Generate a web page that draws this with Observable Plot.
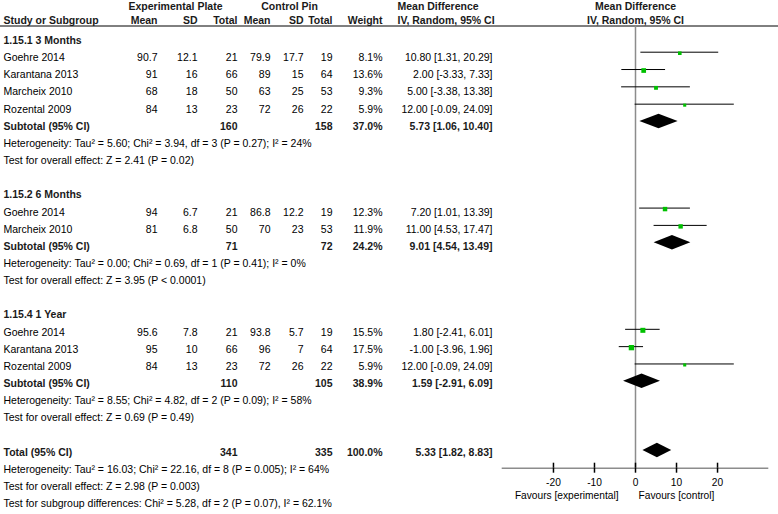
<!DOCTYPE html>
<html>
<head>
<meta charset="utf-8">
<script src="https://cdn.jsdelivr.net/npm/d3@7"></script>
<script src="https://cdn.jsdelivr.net/npm/@observablehq/plot@0.6"></script>
<style>
  html, body { margin: 0; padding: 0; background: #fff; }
  #wrap { position: relative; width: 778px; height: 514px; overflow: hidden; }
  #wrap svg { position: absolute; left: 0; top: 0; }
</style>
</head>
<body>
<div id="wrap"></div>
<script>
// ---------------- DATA ----------------
const subgroupNames = ["1.15.1 3 Months", "1.15.2 6 Months", "1.15.4 1 Year"];
const studyNames = ["Goehre 2014", "Karantana 2013", "Marcheix 2010", "Rozental 2009",
                    "Goehre 2014", "Marcheix 2010",
                    "Goehre 2014", "Karantana 2013", "Rozental 2009"];
const studyGroup = [0, 0, 0, 0, 1, 1, 2, 2, 2];
const expMean  = [90.7, 91, 68, 84, 94, 81, 95.6, 95, 84];
const expSD    = [12.1, 16, 18, 13, 6.7, 6.8, 7.8, 10, 13];
const expTotal = [21, 66, 50, 23, 21, 50, 21, 66, 23];
const ctlMean  = [79.9, 89, 63, 72, 86.8, 70, 93.8, 96, 72];
const ctlSD    = [17.7, 15, 25, 26, 12.2, 23, 5.7, 7, 26];
const ctlTotal = [19, 64, 53, 22, 19, 53, 19, 64, 22];
const weight   = [8.1, 13.6, 9.3, 5.9, 12.3, 11.9, 15.5, 17.5, 5.9];
const md       = [10.80, 2.00, 5.00, 12.00, 7.20, 11.00, 1.80, -1.00, 12.00];
const ciLow    = [1.31, -3.33, -3.38, -0.09, 1.01, 4.53, -2.41, -3.96, -0.09];
const ciHigh   = [20.29, 7.33, 13.38, 24.09, 13.39, 17.47, 6.01, 1.96, 24.09];

const subExpTotal = [160, 71, 110];
const subCtlTotal = [158, 72, 105];
const subWeight   = [37.0, 24.2, 38.9];
const subMD       = [5.73, 9.01, 1.59];
const subLow      = [1.06, 4.54, -2.91];
const subHigh     = [10.40, 13.49, 6.09];
const subHet = [
  "Heterogeneity: Tau² = 5.60; Chi² = 3.94, df = 3 (P = 0.27); I² = 24%",
  "Heterogeneity: Tau² = 0.00; Chi² = 0.69, df = 1 (P = 0.41); I² = 0%",
  "Heterogeneity: Tau² = 8.55; Chi² = 4.82, df = 2 (P = 0.09); I² = 58%"
];
const subTest = [
  "Test for overall effect: Z = 2.41 (P = 0.02)",
  "Test for overall effect: Z = 3.95 (P < 0.0001)",
  "Test for overall effect: Z = 0.69 (P = 0.49)"
];
const totalExp = 341, totalCtl = 335, totalWeight = 100.0;
const totalMD = 5.33, totalLow = 1.82, totalHigh = 8.83;
const totalHet = "Heterogeneity: Tau² = 16.03; Chi² = 22.16, df = 8 (P = 0.005); I² = 64%";
const totalTest = "Test for overall effect: Z = 2.98 (P = 0.003)";
const subgroupDiff = "Test for subgroup differences: Chi² = 5.28, df = 2 (P = 0.07), I² = 62.1%";
const axisTicks = [-20, -10, 0, 10, 20];
const favoursLeft = "Favours [experimental]";
const favoursRight = "Favours [control]";

// ---------------- LAYOUT ----------------
const FONT = "'Liberation Sans', Arial, Helvetica, sans-serif";
const FS = 10.5;
const FS_AXIS = 10.2;
const columns = {
  label:    {x: 3,   anchor: "start"},
  expMean:  {x: 157, anchor: "end"},
  expSD:    {x: 197, anchor: "end"},
  expTotal: {x: 237, anchor: "end"},
  ctlMean:  {x: 270, anchor: "end"},
  ctlSD:    {x: 303, anchor: "end"},
  ctlTotal: {x: 332, anchor: "end"},
  weight:   {x: 382, anchor: "end"},
  ci:       {x: 492, anchor: "end"},
  hExp:     {x: 175, anchor: "middle"},
  hCtl:     {x: 289, anchor: "middle"},
  hMD:      {x: 397, anchor: "start"},
  hMD2:     {x: 635, anchor: "middle"}
};

const fmtCI = (m, l, h) => `${m.toFixed(2)} [${l.toFixed(2)}, ${h.toFixed(2)}]`;
const pct = w => w.toFixed(1) + "%";

// ---------------- BUILD TABLE ----------------
const cells = [];
const push = (row, col, text, bold = false, dy = 0) => cells.push({row, col, text: String(text), bold, dy});
const studyRows = [];
const diamonds = [];

push(0, "hExp", "Experimental Plate", true);
push(0, "hCtl", "Control Pin", true);
push(0, "hMD", "Mean Difference", true);
push(0, "hMD2", "Mean Difference", true);
[["label", "Study or Subgroup"], ["expMean", "Mean"], ["expSD", "SD"], ["expTotal", "Total"],
 ["ctlMean", "Mean"], ["ctlSD", "SD"], ["ctlTotal", "Total"], ["weight", "Weight"],
 ["hMD", "IV, Random, 95% CI"], ["hMD2", "IV, Random, 95% CI"]]
  .forEach(([c, t]) => push(1, c, t, true, -3));

let row = 2;
subgroupNames.forEach((name, g) => {
  push(row, "label", name, true); row++;
  studyNames.forEach((s, i) => {
    if (studyGroup[i] !== g) return;
    push(row, "label", s);
    push(row, "expMean", expMean[i]);
    push(row, "expSD", expSD[i]);
    push(row, "expTotal", expTotal[i]);
    push(row, "ctlMean", ctlMean[i]);
    push(row, "ctlSD", ctlSD[i]);
    push(row, "ctlTotal", ctlTotal[i]);
    push(row, "weight", pct(weight[i]));
    push(row, "ci", fmtCI(md[i], ciLow[i], ciHigh[i]));
    studyRows.push({row, md: md[i], lo: ciLow[i], hi: ciHigh[i], w: weight[i]});
    row++;
  });
  push(row, "label", "Subtotal (95% CI)", true);
  push(row, "expTotal", subExpTotal[g], true);
  push(row, "ctlTotal", subCtlTotal[g], true);
  push(row, "weight", pct(subWeight[g]), true);
  push(row, "ci", fmtCI(subMD[g], subLow[g], subHigh[g]), true);
  diamonds.push({id: "g" + g, row, md: subMD[g], lo: subLow[g], hi: subHigh[g]});
  row++;
  push(row, "label", subHet[g]); row++;
  push(row, "label", subTest[g]); row++;
  row++;
});
push(row, "label", "Total (95% CI)", true);
push(row, "expTotal", totalExp, true);
push(row, "ctlTotal", totalCtl, true);
push(row, "weight", pct(totalWeight), true);
push(row, "ci", fmtCI(totalMD, totalLow, totalHigh), true);
diamonds.push({id: "total", row, md: totalMD, lo: totalLow, hi: totalHigh});
row++;
push(row, "label", totalHet); row++;
push(row, "label", totalTest); row++;
push(row, "label", subgroupDiff); row++;

// ---------------- TABLE PLOT ----------------
const textPitch = 17.15, textTop = 9.2;
const textMarks = d3.groups(cells, c => `${c.col}|${c.bold}|${c.dy}`).map(([, arr]) => {
  const c = arr[0], col = columns[c.col];
  return Plot.text(arr, {
    y: "row", text: "text", frameAnchor: "left", dx: col.x, dy: c.dy,
    textAnchor: col.anchor, lineAnchor: "bottom", fontSize: FS,
    fontWeight: c.bold ? "bold" : "normal", fill: c.bold ? "#1a1a1a" : "#000"
  });
});

const headerLineRow = (25.5 - textTop) / textPitch;
const table = Plot.plot({
  width: 778, height: 514, margin: 0,
  style: {fontFamily: FONT, fontSize: FS + "px", background: "transparent", color: "#000"},
  y: {domain: [0, 30], range: [textTop, textTop + textPitch * 30], axis: null},
  marks: [
    Plot.ruleY([headerLineRow], {stroke: "#000", strokeWidth: 1}),
    ...textMarks
  ]
});

// ---------------- FOREST PLOT ----------------
const fTop = 25.5, fBottom = 467.7, rowPitch = 17.32, rowOffset = -0.26;
const yDomain = [(fTop - rowOffset) / rowPitch, (fBottom - rowOffset) / rowPitch];
const halfH = 7.3 / rowPitch;
const diamondPts = diamonds.flatMap(d => [
  {id: d.id, x: d.lo, y1: d.row, y2: d.row},
  {id: d.id, x: d.md, y1: d.row - halfH, y2: d.row + halfH},
  {id: d.id, x: d.hi, y1: d.row, y2: d.row}
]);

const forest = Plot.plot({
  width: 778, height: 514,
  marginLeft: 501.7, marginRight: 9.7, marginTop: fTop, marginBottom: 514 - fBottom,
  style: {fontFamily: FONT, fontSize: FS_AXIS + "px", background: "transparent", color: "#000"},
  x: {domain: [-32.5, 32.5]},
  y: {domain: yDomain, reverse: true, axis: null},
  r: {domain: [0, 17.5], range: [0, 3.0]},
  marks: [
    Plot.ruleX([0], {stroke: "#8c8c8c", strokeWidth: 1.5}),
    Plot.ruleY([yDomain[1]], {x1: -32.5, x2: 32.5, stroke: "#8c8c8c", strokeWidth: 1.5}),
    Plot.ruleX(axisTicks, {y1: yDomain[1] - 5 / rowPitch, y2: yDomain[1], stroke: "#000", strokeWidth: 1.5}),
    Plot.axisX({ticks: axisTicks, tickFormat: d => String(d), tickSize: 5, tickPadding: 5.5,
                strokeWidth: 1.5, fontSize: FS_AXIS, anchor: "bottom"}),
    Plot.ruleY(studyRows, {y: "row", x1: "lo", x2: "hi", stroke: "#000", strokeWidth: 1}),
    Plot.dot(studyRows, {x: "md", y: "row", r: "w", symbol: "square", fill: "#00c000", stroke: null, dy: 1}),
    Plot.areaY(diamondPts, {x: "x", y1: "y1", y2: "y2", z: "id", fill: "#000"}),
    Plot.text([favoursLeft], {x: 0, frameAnchor: "bottom", dy: 30.5, dx: -17, text: d => d, textAnchor: "end", fontSize: FS_AXIS}),
    Plot.text([favoursRight], {x: 0, frameAnchor: "bottom", dy: 30.5, dx: 3, text: d => d, textAnchor: "start", fontSize: FS_AXIS})
  ]
});

const wrap = document.getElementById("wrap");
wrap.appendChild(table);
wrap.appendChild(forest);
</script>
</body>
</html>
